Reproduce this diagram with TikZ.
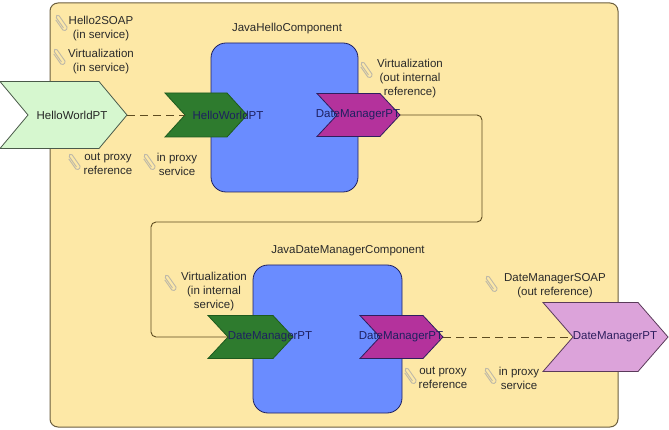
\documentclass[tikz,border=0pt]{standalone}
\usepackage{fontspec}
\setmainfont{Liberation Sans}
\usetikzlibrary{calc}
\definecolor{bgyel}{HTML}{FDE8A6}
\definecolor{boxline}{HTML}{6B5E3E}
\definecolor{compblue}{HTML}{6A8CFF}
\definecolor{navyl}{HTML}{1E2060}
\definecolor{dgreen}{HTML}{2E7B2E}
\definecolor{dgreenl}{HTML}{1E5A1E}
\definecolor{magen}{HTML}{B4329C}
\definecolor{magenl}{HTML}{2E1E5E}
\definecolor{pgreen}{HTML}{D6F7CF}
\definecolor{pgreenl}{HTML}{4A5A4A}
\definecolor{pinkf}{HTML}{DCA3DA}
\definecolor{pinkl}{HTML}{5A3A5A}
\definecolor{connc}{HTML}{5E4C20}
\definecolor{txtc}{HTML}{2A2A2A}
\definecolor{clipgray}{HTML}{BDB8A8}
\tikzset{pics/pclip/.style={code={\draw[clipgray,line width=.9pt,rounded corners=1.6pt,rotate=35]
    (0,6)--(0,-8)--(3.4,-8)--(3.4,9)--(-1.7,9)--(-1.7,-5);}}}
\begin{document}
\begin{tikzpicture}[x=1pt,y=-1pt,font=\fontsize{11.5}{14}\selectfont,
    lbl/.style={align=center,text=txtc,inner sep=0pt},
    port/.style={inner sep=0pt,text=navyl},
    conn/.style={draw=connc,line width=.9pt}]
    \useasboundingbox (0,0) rectangle (669,430);
    \draw[draw=boxline,fill=bgyel,rounded corners=8pt,line width=1pt] (50,3) rectangle (618,427);
    % composants
    \foreach \x/\y/\X/\Y in {211/43/358/192,253/265/402/413}{
            \draw[fill=compblue,draw=navyl,rounded corners=15pt,line width=.8pt] (\x,\y) rectangle (\X,\Y);}
    \node[text=txtc] (jhc) at (287,29) {JavaHelloComponent};
    \node[text=txtc] (jdmc) at (348,251) {JavaDateManagerComponent};
    % chevrons
    \foreach \n/\x/\y/\w/\h/\d/\c/\l in {hwA/0/115/127/67/28/pgreen/pgreenl,hwB/165/115/82/44/20/dgreen/dgreenl,
            dmA/317/115/83/43/20/magen/magenl,dmB/208/337/85/43/20/dgreen/dgreenl,
            dmC/360/337/83/43/20/magen/magenl,dmD/543/337/125/69/30/pinkf/pinkl}{
            \draw[fill=\c,draw=\l,line width=.8pt] (\x,\y-\h/2) -- ++(\w-\d,0) -- ++(\d,\h/2)
            -- ++(-\d,\h/2) -- ++(\d-\w,0) -- ++(\d,-\h/2) -- cycle;
            \coordinate (\n-in) at (\x+\d,\y);
            \coordinate (\n-out) at (\x+\w,\y);}
    % liaisons
    \draw[conn,dash pattern=on 8pt off 5pt] (hwA-out) -- (hwB-in);
    \draw[conn,dash pattern=on 8pt off 5pt] (dmC-out) -- (dmD-in);
    \draw[conn,rounded corners=5pt] (dmA-out) -- ++(82,0) -- ++(0,107) -- ++(-331,0) |- (dmB-in);
    \node[port,text=black!85] (hwA-t) at (72,115) {HelloWorldPT};
    \node[port] (hwB-t) at (228,115) {HelloWorldPT};
    \node[port] (dmA-t) at (358,115) {DateManagerPT};
    \node[port] (dmB-t) at (270,337) {DateManagerPT};
    \node[port] (dmC-t) at (401,337) {DateManagerPT};
    \node[port,text=magenl] (dmD-t) at (615,337) {DateManagerPT};
    % étiquettes + trombones
    \foreach \n/\x/\y/\cx/\cy/\t in {hsoap/101/29/60/23/{Hello2SOAP\\(in service)},
            virtA/101/62/58/57/{Virtualization\\(in service)},
            oprA/108/164/73/162/{out proxy\\reference},ipsA/177/164/148/162/{in proxy\\service},
            virtB/410/79/365/70/{Virtualization\\(out internal\\reference)},
            virtC/214/292/169/283/{Virtualization\\(in internal\\service)},
            oprB/443/378/409/376/{out proxy\\reference},ipsB/519/378/489/376/{in proxy\\service},
            dmsoap/555/286/490/284/{DateManagerSOAP\\(out reference)}}{
            \node[lbl] (\n) at (\x,\y) {\t};
            \pic at (\cx,\cy) {pclip};}
\end{tikzpicture}
\end{document}
